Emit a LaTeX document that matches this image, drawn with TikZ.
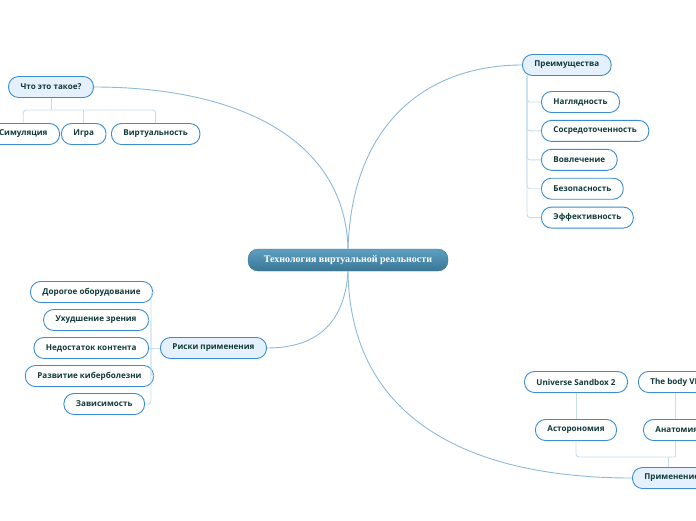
\documentclass[tikz,border=0pt]{standalone}
\usepackage{fontspec}
\setmainfont{Open Sans}
\newfontfamily\rootfont{Liberation Serif}
\usetikzlibrary{positioning}

\definecolor{mapedge}{HTML}{3A8DD0}
\definecolor{mapfill}{HTML}{E4F1FC}
\definecolor{maptext}{HTML}{123A3A}
\definecolor{mainline}{HTML}{8DB9D8}
\definecolor{subline}{HTML}{C5DDEF}
\definecolor{roottop}{HTML}{5E9FC0}
\definecolor{rootbot}{HTML}{3A7797}

\begin{document}
\begin{tikzpicture}[x=1pt, y=-1pt, node distance=7pt,
  every node/.style={font=\fontsize{8.1}{9}\selectfont\bfseries, text=maptext, inner xsep=12pt, inner ysep=0pt, minimum height=21pt, rounded corners=10pt},
  topic/.style={draw=mapedge, fill=mapfill, line width=0.9pt},
  leaf/.style={draw=mapedge, fill=white, line width=0.9pt},
  mainlink/.style={draw=mainline, line width=0.9pt},
  sublink/.style={draw=subline, line width=0.9pt, rounded corners=3pt}]
\useasboundingbox (0,0) rectangle (696,520);
\clip (0,0) rectangle (696,520);

% central topic
\node (root) [top color=roottop, bottom color=rootbot, draw=rootbot, minimum width=200pt, minimum height=22pt, text=white, font=\rootfont\fontsize{10}{12}\selectfont\bfseries] at (348,260) {Технология виртуальной реальности};

% what is it
\node (what) [topic] at (51,87) {Что это такое?};
\node (sim) [leaf, anchor=east] at (60,134) {Симуляция};
\node (game) [leaf, anchor=west] at (61,134) {Игра};
\node (virt) [leaf, anchor=west] at (111,134) {Виртуальность};

% advantages
\node (adv) [topic, anchor=west] at (522,65) {Преимущества};
\node (clear) [leaf, anchor=west] at (541,102) {Наглядность};
\node (focus) [leaf, below=7pt of clear.south west, anchor=north west] {Сосредоточенность};
\node (involve) [leaf, below=7pt of focus.south west, anchor=north west] {Вовлечение};
\node (safe) [leaf, below=7pt of involve.south west, anchor=north west] {Безопасность};
\node (effect) [leaf, below=7pt of safe.south west, anchor=north west] {Эффективность};

% risks
\node (risk) [topic, anchor=west] at (160,348) {Риски применения};
\node (cost) [leaf, anchor=east] at (153,292) {Дорогое оборудование};
\node (sight) [leaf, anchor=east] at (149,320) {Ухудшение зрения};
\node (lack) [leaf, anchor=east] at (149,348) {Недостаток контента};
\node (sick) [leaf, anchor=east] at (154,376) {Развитие киберболезни};
\node (addict) [leaf, anchor=east] at (145,404) {Зависимость};

% applications
\node (app) [topic, anchor=west] at (632,478) {Применение};
\node (astro) [leaf] at (576,430) {Асторономия};
\node (usb) [leaf] at (576,382) {Universe Sandbox 2};
\node (anat) [leaf, anchor=west] at (643,430) {Анатомия};
\node (body) [leaf, anchor=west] at (638,382) {The body VR};

% main branches
\draw[mainlink] (root.north) .. controls (345,140) and (240,87) .. (what.east);
\draw[mainlink] (root.north) .. controls (352,120) and (430,65) .. (adv.west);
\draw[mainlink] (root.south) .. controls (345,320) and (320,348) .. (risk.east);
\draw[mainlink] (root.south) .. controls (350,420) and (470,478) .. (app.west);

% sub branches
\coordinate (whatbar) at (51,110);
\draw[sublink] (what.south) -- (whatbar);
\draw[sublink] (sim.north) |- (whatbar);
\draw[sublink] (game.north) -- (game.north |- whatbar);
\draw[sublink] (virt.north) |- (whatbar);

\coordinate (advrail) at (527,75.5);
\foreach \n in {clear,focus,involve,safe,effect}
  \draw[sublink] (advrail) |- (\n.west);

\coordinate (riskrail) at (151,348);
\draw[sublink] (risk.west) -- (riskrail);
\foreach \n in {cost,sight,sick,addict}
  \draw[sublink] (riskrail) |- (\n.east);
\draw[sublink] (lack.east) -- (riskrail);

\coordinate (appbar) at (668,457);
\coordinate (anatrail) at (675,457);
\draw[sublink] (app.north -| appbar) -- (appbar);
\draw[sublink] (usb.south) -- (astro.north);
\draw[sublink] (body.south -| anatrail) -- (anat.north -| anatrail);
\draw[sublink] (astro.south) |- (anatrail);
\draw[sublink] (anat.south -| anatrail) -- (anatrail);
\end{tikzpicture}
\end{document}
